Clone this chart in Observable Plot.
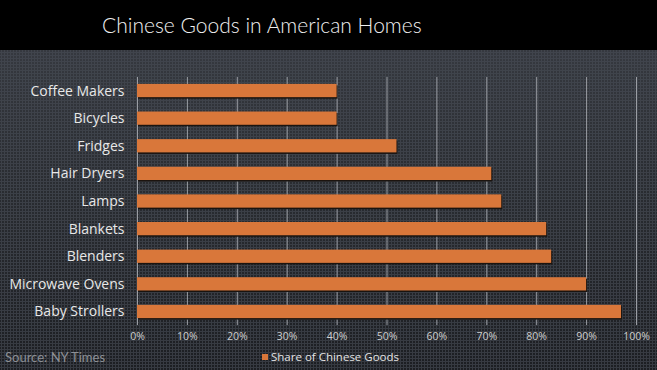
<!DOCTYPE html>
<html>
<head>
<meta charset="utf-8">
<script src="https://cdn.jsdelivr.net/npm/d3@7"></script>
<script src="https://cdn.jsdelivr.net/npm/@observablehq/plot@0.6"></script>
<style>
  html, body { margin: 0; padding: 0; }
  body { width: 657px; height: 370px; overflow: hidden; font-family: "Open Sans", sans-serif; }
  #wrap {
    position: relative; width: 657px; height: 370px;
    background-color: #2c2f35;
    background-image:
      radial-gradient(circle at 1.5px 1.5px, rgba(72,77,86,0.6) 1px, transparent 1.3px),
      linear-gradient(to bottom, #3a3d44 0%, #2b2e33 45%, #1c1e22 100%);
    background-size: 3px 3px, 100% 100%;
  }
  #title {
    position: absolute; left: 0; top: 0; width: 657px;
    height: 50px; background: #000;
  }
  #title span {
    position: absolute; left: 102px; top: 0; line-height: 50px;
    color: #f0f0f0; font-family: "Lato", sans-serif; font-weight: 300; font-size: 21px;
    white-space: nowrap;
  }
  #chart { position: absolute; left: 0; top: 50px; line-height: 0; }
  #chart svg { display: block; }
  #source { position: absolute; left: 5px; top: 349px; font-size: 13px; color: #8d9096; font-family: "Lato", sans-serif; }
  #legend { position: absolute; left: 262px; top: 349px; font-size: 11.5px; color: #e4e4e4; display: flex; align-items: center; font-family: "Open Sans", sans-serif; }
  #legend .sw { width: 6px; height: 6px; background: #d9773a; margin-right: 3px; }
</style>
</head>
<body>
<div id="wrap">
  <div id="title"><span>Chinese Goods in American Homes</span></div>
  <div id="chart"></div>
  <div id="source">Source: NY Times</div>
  <div id="legend"><span class="sw"></span><span id="legendText"></span></div>
</div>
<script>
const categories = ["Coffee Makers", "Bicycles", "Fridges", "Hair Dryers", "Lamps", "Blankets", "Blenders", "Microwave Ovens", "Baby Strollers"];
const shares = [40, 40, 52, 71, 73, 82, 83, 90, 97];
const xTicks = [0, 10, 20, 30, 40, 50, 60, 70, 80, 90, 100];
const seriesName = "Share of Chinese Goods";

const data = categories.map((c, i) => ({category: c, share: shares[i]}));
document.getElementById("legendText").textContent = seriesName;

const plot = Plot.plot({
  width: 657,
  height: 300,
  marginLeft: 137,
  marginRight: 21,
  marginTop: 27,
  marginBottom: 25,
  style: {background: "transparent", color: "#d8d8d8", fontFamily: "'Open Sans', sans-serif"},
  x: {domain: [0, 100], ticks: xTicks, tickFormat: d => d + "%", label: null},
  y: {domain: categories, paddingInner: 0.52, paddingOuter: 0.25, round: false, label: null},
  marks: [
    Plot.gridX(xTicks, {stroke: "#9a9da3", strokeOpacity: 1, strokeWidth: 1}),
    Plot.barX(data, {x: "share", y: "category", fill: "#1a1410", dx: 1, dy: 1.5}),
    Plot.barX(data, {x: "share", y: "category", fill: "#d9773a"}),
    Plot.axisX({ticks: xTicks, tickFormat: d => d + "%", tickSize: 0, tickPadding: 7, fontSize: 10.5, fill: "#d0d0d0", label: null}),
    Plot.axisY({tickSize: 0, tickPadding: 13, fontSize: 14, fill: "#e8e8e8", label: null})
  ]
});
document.getElementById("chart").appendChild(plot);
</script>
</body>
</html>
